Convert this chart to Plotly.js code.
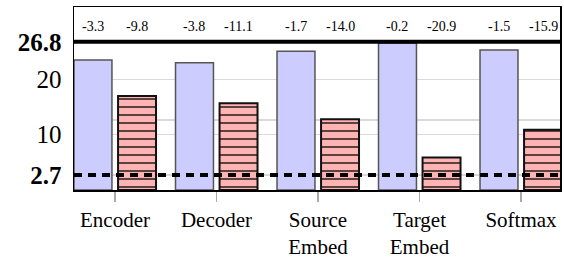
<!DOCTYPE html>
<html>
<head>
<meta charset="utf-8">
<script src="https://cdn.plot.ly/plotly-3.0.1.min.js"></script>
<style>html,body{margin:0;padding:0;background:#fff}#chart{width:564px;height:259px}</style>
</head>
<body>
<div id="chart"></div>
<script>
const categories = ["Encoder", "Decoder", "Source<br>Embed", "Target<br>Embed", "Softmax"];
const baseline = 26.8;
const floorValue = 2.7;
const blueDiff = [-3.3, -3.8, -1.7, -0.2, -1.5];
const redDiff = [-9.8, -11.1, -14.0, -20.9, -15.9];
const tickVals = [2.7, 10, 12.7, 20, 26.8];
const tickText = ["<b>2.7</b>", "10", "", "20", "<b>26.8</b>"];

const blueVals = blueDiff.map(d => +(baseline + d).toFixed(1));
const redVals = redDiff.map(d => +(baseline + d).toFixed(1));

const W = 0.374, OB = -0.404, OR = 0.03;
const font = "'Liberation Serif'";

const traces = [
  {type: "bar", x: categories, y: blueVals, width: W, offset: OB,
   marker: {color: "#ccccff", line: {color: "#555555", width: 1.5}}, hoverinfo: "y"},
  {type: "bar", x: categories, y: redVals, width: W, offset: OR,
   marker: {color: "#ffb3b3", line: {color: "#111111", width: 2},
            pattern: {shape: "-", size: 8, solidity: 0.16, fgcolor: "#000000", bgcolor: "#ffb3b3", fillmode: "replace"}},
   hoverinfo: "y"}
];

const annotations = [];
categories.forEach((c, i) => {
  annotations.push({x: i + OB + W / 2, y: 29.6, xref: "x", yref: "y", text: blueDiff[i].toFixed(1),
    showarrow: false, font: {family: font, size: 14, color: "#000"}});
  annotations.push({x: i + OR + W / 2, y: 29.6, xref: "x", yref: "y", text: redDiff[i].toFixed(1),
    showarrow: false, font: {family: font, size: 14, color: "#000"}});
});

const layout = {
  width: 564, height: 259,
  margin: {l: 74, r: 4, t: 7, b: 69},
  paper_bgcolor: "#fff", plot_bgcolor: "#fff",
  showlegend: false,
  font: {family: font, color: "#000"},
  xaxis: {
    type: "category", range: [-0.404, 4.384],
    showline: true, linecolor: "#000", linewidth: 1.5, mirror: true,
    ticks: "outside", ticklen: 10, tickcolor: "#aaaaaa", tickwidth: 1.5,
    tickfont: {family: font, size: 21, color: "#000"}, showgrid: false, zeroline: false
  },
  yaxis: {
    range: [0, 33.1], tickmode: "array", tickvals: tickVals, ticktext: tickText,
    showline: true, linecolor: "#000", linewidth: 1.5, mirror: true,
    ticks: "", ticklabelstandoff: 6,
    tickfont: {family: font, size: 25, color: "#000"},
    showgrid: true, gridcolor: "#d9d9d9", gridwidth: 1.5, zeroline: false
  },
  shapes: [
    {type: "line", xref: "paper", x0: 0, x1: 1, yref: "y", y0: baseline, y1: baseline,
     line: {color: "#000", width: 4}},
    {type: "line", xref: "paper", x0: 0, x1: 1, yref: "y", y0: floorValue, y1: floorValue,
     line: {color: "#000", width: 4, dash: "8px,6px"}}
  ],
  annotations: annotations
};

Plotly.newPlot("chart", traces, layout, {displayModeBar: false, staticPlot: true});
</script>
</body>
</html>
